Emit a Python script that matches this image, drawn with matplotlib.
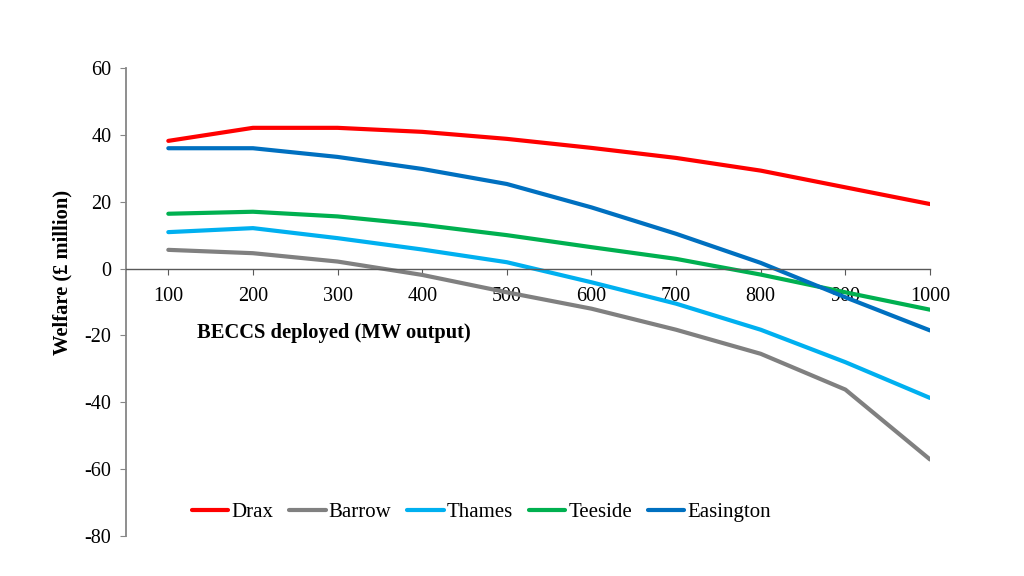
import matplotlib.pyplot as plt

plt.rcParams['font.family'] = ['Liberation Serif', 'DejaVu Serif']
plt.rcParams['axes.unicode_minus'] = False

# BECCS deployed (MW output)
mw = [100, 200, 300, 400, 500, 600, 700, 800, 900, 1000]

# welfare in £ million
drax = [38.2, 42.1, 42.1, 40.9, 38.8, 36.1, 33.1, 29.3, 24.3, 19.3]
barrow = [5.6, 4.6, 2.1, -1.9, -7.1, -12.0, -18.3, -25.5, -36.2, -57.1]
thames = [10.9, 12.1, 9.1, 5.7, 1.9, -4.1, -10.5, -18.3, -28.0, -38.7]
teeside = [16.4, 17.0, 15.6, 13.1, 10.0, 6.4, 2.9, -1.8, -7.1, -12.3]
easington = [36.0, 36.0, 33.4, 29.8, 25.3, 18.3, 10.4, 1.7, -8.6, -18.5]

names = ['Drax', 'Barrow', 'Thames', 'Teeside', 'Easington']
series = [drax, barrow, thames, teeside, easington]
colors = ['#FF0000', '#808080', '#00B0F0', '#00B050', '#0070C0']

W, H = 1024, 576
fig = plt.figure(figsize=(W / 100, H / 100), dpi=100)
ax = fig.add_axes([126 / W, 1 - 536 / H, (930 - 126) / W, (536 - 68) / H])

for name, vals, c in zip(names, series, colors):
    ax.plot(mw, vals, color=c, lw=3, label=name, solid_capstyle='round',
            solid_joinstyle='round')

ax.set_xlim(50, 1000)
ax.set_ylim(-80, 60)
ax.set_yticks(range(-80, 61, 20))
ax.set_xticks(mw)

# x axis sits on zero
ax.spines['bottom'].set_position(('data', 0))
ax.spines['top'].set_visible(False)
ax.spines['right'].set_visible(False)
ax.spines['left'].set_color('#868686')
ax.spines['bottom'].set_color('#595959')
ax.spines['left'].set_linewidth(1.3)
ax.spines['bottom'].set_linewidth(1.0)

ax.tick_params(axis='y', direction='out', length=4.5, color='#868686',
               labelsize=14.5, pad=6)
ax.tick_params(axis='x', direction='out', length=4, color='#595959',
               labelsize=14.5, pad=9.5)

fig.text(62 / W, 1 - 272 / H, 'Welfare (£ million)', rotation=90, fontsize=14.8,
         fontweight='bold', ha='center', va='center')
fig.text(197 / W, 1 - 333 / H, 'BECCS deployed (MW output)', fontsize=14.8,
         fontweight='bold', ha='left', va='center')

ax.legend(loc='center', bbox_to_anchor=(0.442, 0.05), ncol=5, frameon=False,
          fontsize=15, handlelength=1.75, handletextpad=0.15, columnspacing=0.75,
          borderpad=0, borderaxespad=0)

fig.savefig('out.png', dpi=100)
